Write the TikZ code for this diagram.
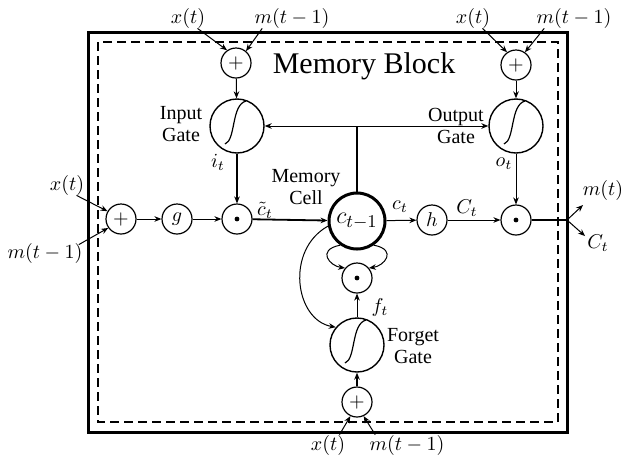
\documentclass[tikz,border=0pt]{standalone}
\usepackage{fontspec}
\setmainfont{Liberation Serif}
\usetikzlibrary{arrows.meta}
\begin{document}
\begin{tikzpicture}[x=0.5pt,y=-0.5pt,
  op/.style={circle,draw,line width=0.6pt,minimum size=15pt,inner sep=0pt,font=\fontsize{10}{11}\selectfont},
  gate/.style={circle,draw,line width=0.7pt,minimum size=27pt,inner sep=0pt},
  cellnode/.style={circle,draw,line width=1.5pt,minimum size=28pt,inner sep=0pt,font=\fontsize{12.5}{13}\selectfont},
  lbl/.style={font=\rmfamily\fontsize{10}{11}\selectfont,align=center,inner sep=0pt},
  mlbl/.style={font=\fontsize{10}{11}\selectfont,inner sep=0pt},
  conn/.style={line width=0.5pt,-{Stealth[length=3.5pt,width=2.8pt]}},
  thickconn/.style={line width=0.9pt,-{Stealth[length=3.5pt,width=2.8pt]}},
  sig/.style={line width=0.6pt}]
\useasboundingbox (0,0) rectangle (625,462);
% boxes
\draw[line width=1.5pt] (88,32) rectangle (567,432);
\draw[line width=1pt,dash pattern=on 4.5pt off 2.5pt] (98,42) rectangle (558,422);
\node[font=\rmfamily\fontsize{15}{16}\selectfont,inner sep=0pt] (title) at (364,66) {Memory Block};
% nodes
\node[op] (ip) at (236,63) {$+$};
\node[gate] (ig) at (237,126) {};
\node[op] (lp) at (121,219) {$+$};
\node[op] (g) at (177,219) {$g$};
\node[op] (d1) at (237,219) {};
\node[cellnode] (cell) at (357,221) {$c_{t-1}$};
\node[op] (h) at (432,220) {$h$};
\node[op] (d2) at (516,220) {};
\node[op] (opl) at (516,65) {$+$};
\node[gate] (og) at (516,126) {};
\node[op] (df) at (357,278) {};
\node[gate] (fg) at (357,345) {};
\node[op] (fp) at (357,402) {$+$};
\fill (d1.center) circle (2.4);
\fill (d2.center) circle (2.4);
\fill (df.center) circle (2.4);
% sigmoids
\foreach \n in {ig,og,fg}{
  \draw[sig,shift={(\n.center)}] (-12,18) .. controls (-1,14) and (-6,-21) .. (9,-25);
}
% labels
\node[lbl] (iglbl) at (181,124) {Input\\Gate};
\node[lbl] (oglbl) at (456,126) {Output\\Gate};
\node[lbl] (fglbl) at (413,346) {Forget\\Gate};
\node[lbl] (celllbl) at (306,187) {Memory\\Cell};
\node[mlbl] (it) at (218,162) {$i_t$};
\node[mlbl] (ot) at (504,164) {$o_t$};
\node[mlbl] (ft) at (380,307) {$f_t$};
\node[mlbl] (ctil) at (265,210) {$\tilde{c}_t$};
\node[mlbl] (ct) at (400,207) {$c_t$};
\node[mlbl] (Ct) at (467,208) {$C_t$};
\node[mlbl] (xt1) at (188,18) {$x(t)$};
\node[mlbl] (mt1) at (292,18) {$m(t-1)$};
\node[mlbl] (xt2) at (473,18) {$x(t)$};
\node[mlbl] (mt2) at (574,18) {$m(t-1)$};
\node[mlbl] (xt3) at (67,185) {$x(t)$};
\node[mlbl] (mt3) at (45,253) {$m(t-1)$};
\node[mlbl] (xt4) at (328,445) {$x(t)$};
\node[mlbl] (mt4) at (407,445) {$m(t-1)$};
\node[mlbl] (mout) at (603,190) {$m(t)$};
\node[mlbl] (Cout) at (598,243) {$C_t$};
% input side
\draw[conn] ([xshift=-4pt]xt1.south east) -- (ip.125);
\draw[conn] ([xshift=4pt]mt1.south west) -- (ip.50);
\draw[conn] (ip) -- (ig);
\draw[thickconn] (ig) -- (d1);
\draw[conn] ([xshift=-4pt]xt3.south east) -- (lp.150);
\draw[conn] ([xshift=-2pt,yshift=-1pt]mt3.north east) -- (lp.215);
\draw[conn] (lp) -- (g);
\draw[conn] (g) -- (d1);
\draw[thickconn] (d1) -- (cell);
% output side
\draw[conn] ([xshift=-4pt]xt2.south east) -- (opl.125);
\draw[conn] ([xshift=4pt]mt2.south west) -- (opl.55);
\draw[conn] (opl) -- (og);
\draw[conn] (og) -- (d2);
\draw[conn] (cell) -- (h);
\draw[conn] (h) -- (d2);
\coordinate (split) at (567,220);
\draw[line width=0.9pt] (d2) -- (split);
\draw[conn] (split) -- (583,205);
\draw[conn] (split) -- (585,236);
% peephole to gates
\coordinate (jn) at (357,126);
\draw[line width=0.7pt] (cell) -- (jn);
\draw[conn] (jn) -- (ig);
\draw[conn] (jn) -- (og);
% forget part
\draw[conn] (cell.235) .. controls (316,250) and (330,266) .. (df.140);
\draw[conn] (cell.305) .. controls (398,250) and (384,266) .. (df.40);
\draw[conn] (cell.190) .. controls (285,250) and (295,320) .. (fg.140);
\draw[conn] (fg) -- (df);
\draw[thickconn] (fp) -- (fg);
\draw[conn] ([xshift=-3pt]xt4.north east) -- (fp.245);
\draw[conn] ([xshift=3pt]mt4.north west) -- (fp.295);
\end{tikzpicture}
\end{document}
